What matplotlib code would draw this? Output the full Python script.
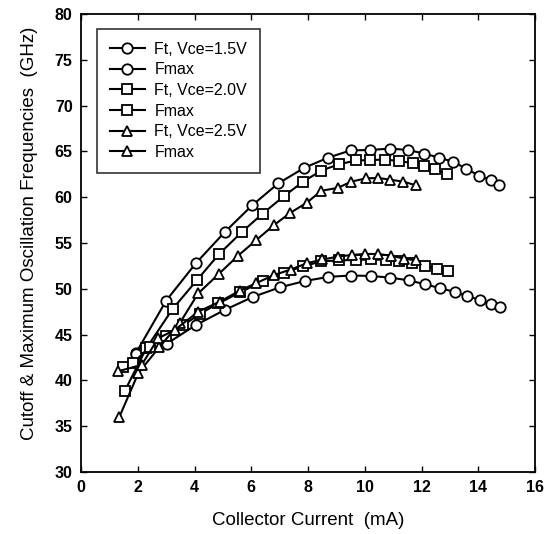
import matplotlib.pyplot as plt

plt.rcParams['font.family'] = ['Liberation Sans', 'DejaVu Sans']

# Ft and Fmax versus collector current, three Vce values
ft15_x = [1.94, 3.0, 4.05, 5.07, 6.03, 6.95, 7.87, 8.7, 9.5, 10.2, 10.9, 11.52,
          12.1, 12.63, 13.12, 13.58, 14.02, 14.45, 14.73]
ft15_y = [43.0, 48.7, 52.8, 56.2, 59.1, 61.5, 63.2, 64.3, 65.1, 65.15, 65.3, 65.15,
          64.75, 64.3, 63.85, 63.1, 62.35, 61.85, 61.3]

fmax15_x = [1.94, 3.02, 4.05, 5.07, 6.05, 7.0, 7.89, 8.72, 9.5, 10.22, 10.9, 11.55,
            12.12, 12.65, 13.18, 13.62, 14.05, 14.46, 14.77]
fmax15_y = [42.9, 44.0, 46.05, 47.7, 49.1, 50.15, 50.85, 51.3, 51.45, 51.4, 51.22, 50.92,
            50.5, 50.07, 49.65, 49.2, 48.8, 48.35, 48.0]

ft20_x = [1.55, 2.3, 3.23, 4.1, 4.87, 5.67, 6.4, 7.15, 7.83, 8.47, 9.1, 9.7, 10.2,
          10.72, 11.2, 11.69, 12.1, 12.48, 12.91]
ft20_y = [38.9, 43.5, 47.8, 51.0, 53.8, 56.2, 58.2, 60.1, 61.7, 62.9, 63.6, 64.0, 64.05,
          64.1, 63.95, 63.7, 63.35, 63.05, 62.5]

fmax20_x = [1.49, 1.84, 2.43, 3.0, 3.6, 4.2, 4.84, 5.6, 6.42, 7.14, 7.84, 8.47, 9.1, 9.7,
            10.23, 10.74, 11.2, 11.68, 12.14, 12.55, 12.93]
fmax20_y = [41.5, 41.9, 43.7, 44.9, 46.0, 47.3, 48.4, 49.6, 50.85, 51.75, 52.45, 53.0,
            53.1, 53.15, 53.2, 53.15, 53.05, 52.85, 52.5, 52.2, 51.9]

ft25_x = [1.35, 2.02, 2.75, 3.49, 4.13, 4.85, 5.53, 6.17, 6.8, 7.38, 7.96, 8.47, 9.04,
          9.53, 10.04, 10.47, 10.9, 11.35, 11.8]
ft25_y = [36.0, 40.8, 43.6, 46.3, 49.5, 51.6, 53.6, 55.3, 56.95, 58.3, 59.4, 60.7, 61.0,
          61.7, 62.05, 62.1, 61.9, 61.7, 61.3]

fmax25_x = [1.31, 2.14, 2.72, 3.3, 4.13, 4.89, 5.6, 6.16, 6.8, 7.39, 7.97, 8.51, 9.04,
            9.55, 10.02, 10.47, 10.94, 11.37, 11.8]
fmax25_y = [41.0, 41.7, 44.6, 45.5, 47.5, 48.6, 49.8, 50.6, 51.5, 52.1, 52.8, 53.2, 53.5,
            53.7, 53.8, 53.8, 53.6, 53.3, 53.1]

series = [
    (ft15_x, ft15_y, 'o', 'Ft, Vce=1.5V'),
    (fmax15_x, fmax15_y, 'o', 'Fmax'),
    (ft20_x, ft20_y, 's', 'Ft, Vce=2.0V'),
    (fmax20_x, fmax20_y, 's', 'Fmax'),
    (ft25_x, ft25_y, '^', 'Ft, Vce=2.5V'),
    (fmax25_x, fmax25_y, '^', 'Fmax'),
]

fig = plt.figure(figsize=(5.51, 5.34), dpi=100)
ax = fig.add_axes([0.147, 0.116, 0.824, 0.858])

for x, y, m, lab in series:
    ms = 7.5 if m == 'o' else 7
    ax.plot(x, y, color='black', lw=1.5, marker=m, ms=ms, mfc='white',
            mec='black', mew=1.3, label=lab)

ax.set_xlim(0, 16)
ax.set_ylim(30, 80)
ax.set_xticks(range(0, 17, 2))
ax.set_yticks(range(30, 81, 5))
ax.tick_params(direction='in', top=True, right=True, length=4, width=1,
               labelsize=11.5, pad=6)
for lbl in ax.get_xticklabels() + ax.get_yticklabels():
    lbl.set_fontweight('bold')
for sp in ax.spines.values():
    sp.set_linewidth(1.3)

ax.set_xlabel('Collector Current  (mA)', fontsize=13.5, labelpad=12)
ax.set_ylabel('Cutoff & Maximum Oscillation Frequencies  (GHz)', fontsize=13.5)
ax.yaxis.set_label_coords(-0.095, 0.52)

leg = ax.legend(loc='upper left', bbox_to_anchor=(0.035, 0.967), borderaxespad=0,
                fontsize=11.5, frameon=True, fancybox=False, edgecolor='black',
                handlelength=2.2, labelspacing=0.35, borderpad=0.8, handletextpad=0.6)
leg.get_frame().set_linewidth(1.2)

fig.savefig('out.png', dpi=100)
